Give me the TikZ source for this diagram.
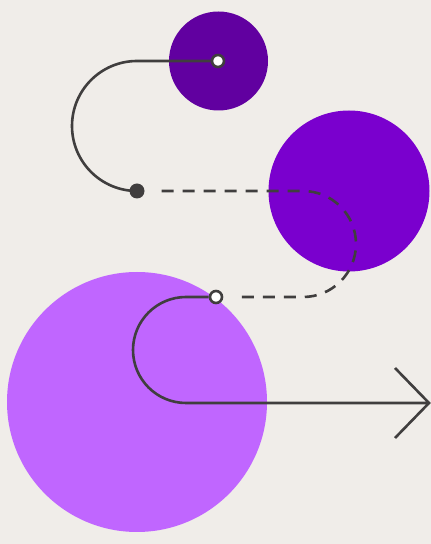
\documentclass[tikz,border=0pt]{standalone}
\definecolor{pathBg}{RGB}{240,237,233}
\definecolor{pathLine}{RGB}{64,62,62}
\definecolor{pathDeep}{RGB}{97,0,160}
\definecolor{pathMid}{RGB}{122,0,206}
\definecolor{pathSoft}{RGB}{192,102,255}
\tikzset{
  blob/.style={circle, inner sep=0pt, draw=none},
  route/.style={line width=2.6pt, draw=pathLine},
  routedash/.style={route, dash pattern=on 12pt off 9pt},
  holedot/.style={circle, inner sep=0pt, minimum size=12pt, line width=2.6pt, draw=pathLine, fill=white},
  solidot/.style={circle, inner sep=0pt, minimum size=15pt, fill=pathLine},
}
\begin{document}
\begin{tikzpicture}[x=1pt, y=1pt]
  \fill[pathBg] (0,0) rectangle (431,544);
  \useasboundingbox (0,0) rectangle (431,544);
  \node[blob, fill=pathDeep, minimum size=99pt] (topball) at (218.5,483) {};
  \node[blob, fill=pathMid, minimum size=161pt] (midball) at (349,353) {};
  \node[blob, fill=pathSoft, minimum size=260pt] (lowball) at (137,142) {};
  \node[solidot] (start) at (137,353) {};
  \node[holedot] (stopa) at (218,483) {};
  \node[holedot] (stopb) at (216,247) {};
  \coordinate (tip) at (429,141);
  \draw[route] (stopa.west) -- (137,483) arc[start angle=90, end angle=270, radius=65] -- (start);
  \draw[routedash, shorten <=17pt, shorten >=13pt] (start.east) -- (303,353) arc[start angle=90, end angle=-90, radius=53] -- (stopb.east);
  \draw[route] (stopb.west) -- (186,247) arc[start angle=90, end angle=270, radius=53] -- (tip);
  \draw[route] (tip) ++(-34,35) -- (tip) -- ++(-34,-35);
\end{tikzpicture}
\end{document}
